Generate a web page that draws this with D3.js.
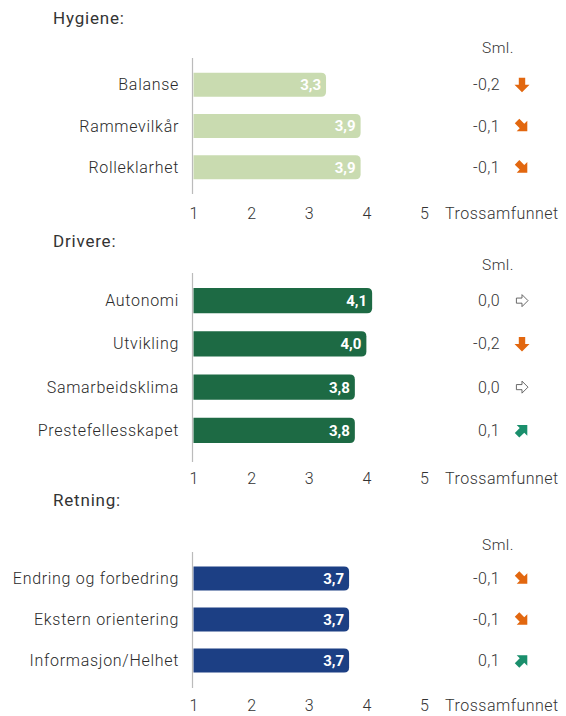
<!DOCTYPE html>
<html>
<head>
<meta charset="utf-8">
<script src="https://cdn.jsdelivr.net/npm/d3@7"></script>
<style>
  body { margin: 0; background: #fff; }
  svg text { font-family: Roboto, "Noto Sans", sans-serif; }
</style>
</head>
<body>
<svg id="svg" width="566" height="716"></svg>
<script>
// data
var hygieneCats = ["Balanse", "Rammevilkår", "Rolleklarhet"];
var hygieneVals = [3.3, 3.9, 3.9];
var hygieneDiff = [-0.2, -0.1, -0.1];

var drivereCats = ["Autonomi", "Utvikling", "Samarbeidsklima", "Prestefellesskapet"];
var drivereVals = [4.1, 4.0, 3.8, 3.8];
var drivereDiff = [0.0, -0.2, 0.0, 0.1];

var retningCats = ["Endring og forbedring", "Ekstern orientering", "Informasjon/Helhet"];
var retningVals = [3.7, 3.7, 3.7];
var retningDiff = [-0.1, -0.1, 0.1];

var tickVals = [1, 2, 3, 4, 5];
var axisName = "Trossamfunnet";
var smlLabel = "Sml.";

var sections = [
  {title: "Hygiene:", cats: hygieneCats, vals: hygieneVals, diff: hygieneDiff, color: "#c9dbb0",
   titleY: 18, smlY: 48, top: 64, bottom: 188, lineTop: 58, lineBot: 194, tickY: 213},
  {title: "Drivere:", cats: drivereCats, vals: drivereVals, diff: drivereDiff, color: "#1d6a44",
   titleY: 241, smlY: 265, top: 279, bottom: 452, lineTop: 273, lineBot: 462, tickY: 478},
  {title: "Retning:", cats: retningCats, vals: retningVals, diff: retningDiff, color: "#1c3f84",
   titleY: 500, smlY: 545, top: 558, bottom: 681, lineTop: 552, lineBot: 688, tickY: 705}
];

var svg = d3.select("#svg");
var x = d3.scaleLinear().domain([1, 5]).range([193.5, 424]);
var fmt = function(v) { return d3.format(".1f")(v).replace(".", ","); };
var fmtDiff = function(v) { return (v < 0 ? "-" : "") + d3.format(".1f")(Math.abs(v)).replace(".", ","); };
// arrow angle from the change: down for -0,2, diagonal for +-0,1, flat for 0
var angle = d3.scaleLinear().domain([-0.2, 0, 0.2]).range([90, 0, -90]);

// block arrow pointing right, centred on 0,0
var arrowPath = "M-7,-3.2 L0,-3.2 L0,-7.5 L7.5,0 L0,7.5 L0,3.2 L-7,3.2 Z";

function bar(x0, x1, y0, h, r) {
  return "M" + x0 + "," + y0 + "H" + (x1 - r) + "Q" + x1 + "," + y0 + " " + x1 + "," + (y0 + r) +
    "V" + (y0 + h - r) + "Q" + x1 + "," + (y0 + h) + " " + (x1 - r) + "," + (y0 + h) + "H" + x0 + "Z";
}

sections.forEach(function(s) {
  var g = svg.append("g");
  var y = d3.scaleBand().domain(s.cats).range([s.top, s.bottom]).paddingInner(0.42).paddingOuter(0.21);

  g.append("text").attr("x", 53).attr("y", s.titleY).attr("dy", "0.35em")
    .style("font-size", "17px").style("letter-spacing", "0.8px").attr("fill", "#333").text(s.title);

  g.append("text").attr("x", 498).attr("y", s.smlY).attr("dy", "0.35em")
    .attr("text-anchor", "middle").style("font-size", "15.5px").style("letter-spacing", "0.5px")
    .style("font-weight", 300).attr("fill", "#333").text(smlLabel);

  // axis line
  g.append("line").attr("x1", x(1) - 1).attr("x2", x(1) - 1)
    .attr("y1", s.lineTop).attr("y2", s.lineBot)
    .attr("stroke", "#bbb").attr("stroke-width", 1.2);

  // bottom axis labels
  var ax = g.append("g").attr("transform", "translate(0," + s.tickY + ")")
    .call(d3.axisBottom(x).tickValues(tickVals).tickSize(0).tickPadding(0).tickFormat(d3.format("d")));
  ax.select(".domain").remove();
  ax.selectAll("text").attr("y", 0).attr("dy", "0.35em")
    .style("font-size", "16px").style("font-weight", 300).attr("fill", "#333");
  g.append("text").attr("x", 445).attr("y", s.tickY).attr("dy", "0.35em")
    .style("font-size", "16px").style("letter-spacing", "0.5px").style("font-weight", 300)
    .attr("fill", "#333").text(axisName);

  var rows = g.selectAll(".row").data(s.cats).enter().append("g").attr("class", "row");

  rows.append("text").attr("x", 179).attr("y", function(d) { return y(d) + y.bandwidth() / 2; })
    .attr("dy", "0.35em").attr("text-anchor", "end")
    .style("font-size", "16px").style("letter-spacing", "0.7px").style("font-weight", 300)
    .attr("fill", "#2a2a2a").text(function(d) { return d; });

  rows.append("path")
    .attr("d", function(d, i) { return bar(x(1), x(s.vals[i]), y(d), y.bandwidth(), 5); })
    .attr("fill", s.color);

  rows.append("text").attr("x", function(d, i) { return x(s.vals[i]) - 5; })
    .attr("y", function(d) { return y(d) + y.bandwidth() / 2; })
    .attr("dy", "0.36em").attr("text-anchor", "end")
    .style("font-size", "15px").style("font-weight", "bold").attr("fill", "#fff")
    .text(function(d, i) { return fmt(s.vals[i]); });

  rows.append("text").attr("x", 500).attr("y", function(d) { return y(d) + y.bandwidth() / 2; })
    .attr("dy", "0.35em").attr("text-anchor", "end")
    .style("font-size", "16px").style("letter-spacing", "0.4px").style("font-weight", 300)
    .attr("fill", "#333").text(function(d, i) { return fmtDiff(s.diff[i]); });

  rows.append("path").attr("d", arrowPath)
    .attr("transform", function(d, i) {
      return "translate(522," + (y(d) + y.bandwidth() / 2) + ") rotate(" + angle(s.diff[i]) + ")" +
        (s.diff[i] === 0 ? " scale(0.8)" : "");
    })
    .attr("fill", function(d, i) { return s.diff[i] < 0 ? "#e2670f" : s.diff[i] > 0 ? "#1a8f6c" : "#fff"; })
    .attr("stroke", function(d, i) { return s.diff[i] === 0 ? "#555" : "none"; })
    .attr("stroke-width", 1.1);
});
</script>
</body>
</html>
